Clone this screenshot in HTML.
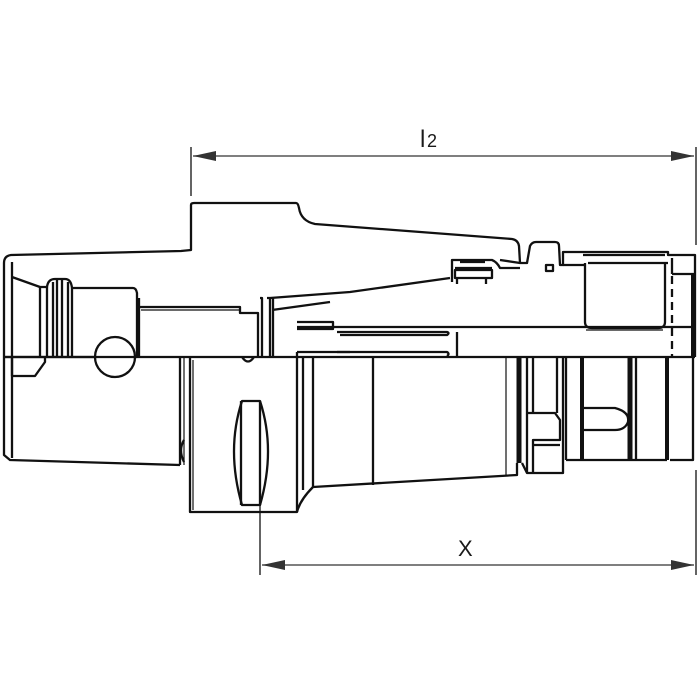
<!DOCTYPE html>
<html><head><style>
html,body{margin:0;padding:0;background:#fff;width:700px;height:700px;overflow:hidden}
svg{display:block}
text{font-family:"Liberation Sans",sans-serif;fill:#1a1a1a}
</style></head><body>
<svg width="700" height="700" viewBox="0 0 700 700" xmlns="http://www.w3.org/2000/svg">
<g fill="none" stroke="#111" stroke-width="2.3" stroke-linejoin="round">
<!-- dimension l2 -->
<line x1="191" y1="147" x2="191" y2="196" stroke-width="1.3"/>
<line x1="696" y1="147" x2="696" y2="245" stroke-width="1.3"/>
<line x1="193" y1="156" x2="694" y2="156" stroke="#555" stroke-width="1.5"/>
<path d="M193 156 L216 151 L216 161 Z M694 156 L671 151 L671 161 Z" fill="#333" stroke="none"/>
<!-- dimension X -->
<line x1="260" y1="505" x2="260" y2="575" stroke-width="1.3"/>
<line x1="696" y1="470" x2="696" y2="575" stroke-width="1.3"/>
<line x1="262" y1="565" x2="694" y2="565" stroke="#555" stroke-width="1.5"/>
<path d="M262 565 L285 560 L285 570 Z M694 565 L671 560 L671 570 Z" fill="#333" stroke="none"/>

<!-- outer upper outline -->
<path d="M4 357 L4 263 Q4 256 11 255 L181 251 L191 250 L191 205 Q191 203 194 203 L296 203 Q298 203 299 208 Q301 221 315 224 L512 239 Q518 240 519 246 L520 263 L527 263 L530 246 Q532 242 536 242 L555 242 Q559 242 559 246 L560 265 L563 265 L563 252 L668 252 L668 255 L695 255 L695 357"/>
<line x1="4" y1="357" x2="695" y2="357"/>
<!-- left body lower -->
<path d="M4 357 L4 455 L10 460 L180 465"/>
<line x1="12" y1="262" x2="12" y2="458"/>
<path d="M12 277 L40 287 L47 287 Q48 279 55 279 L65 279 Q71 279 72 288 L133 288 Q136 288 137 293 L137 357"/>
<line x1="47" y1="287" x2="47" y2="357"/><line x1="53" y1="282" x2="53" y2="357"/><line x1="57" y1="280" x2="57" y2="357"/><line x1="62" y1="280" x2="62" y2="357"/><line x1="68" y1="282" x2="68" y2="357"/><line x1="72" y1="288" x2="72" y2="357"/>
<line x1="40" y1="287" x2="40" y2="357"/>
<path d="M12 357 L12 376 L35 376 L45 362 L45 357"/>
<circle cx="115" cy="357" r="20" fill="#fff"/>
<line x1="4" y1="357" x2="137" y2="357"/>
<path d="M139 298 L139 357 M137 307 L240 307 L240 313 L258 313 L258 357"/>
<line x1="141" y1="310" x2="240" y2="310" stroke-width="1.3"/>
<path d="M242 357 Q248 366 254 357"/>
<path d="M260 298 L262 298 L262 357 M267 298 L270 298 L270 357 M270 298 L350 292 L450 278"/>
<path d="M272 310 L330 302 M273 298 L273 357"/>
<line x1="180" y1="357" x2="180" y2="465"/><line x1="184" y1="357" x2="184" y2="465" stroke-width="1.2"/>
<path d="M184 440 Q178 450 184 462"/>
<!-- lower box -->
<path d="M190 357 L190 512 L297 512 Q300 500 313 487 L517 475 L517 463"/>
<line x1="193" y1="360" x2="193" y2="510" stroke-width="1.2"/>
<line x1="297" y1="352" x2="297" y2="512"/>
<path d="M303 357 L303 490 M313 357 L313 487"/>
<path d="M297 352 L350 352 M297 322 L333 322 L333 329 L297 329"/>
<path d="M242 401 L260 401 Q276 450 260 505 L242 505 Q226 450 242 401 Z"/>
<line x1="241" y1="401" x2="241" y2="505"/><line x1="260" y1="401" x2="260" y2="505"/>
<line x1="373" y1="357" x2="373" y2="485"/>
<!-- inner middle lines -->
<path d="M297 327 L693 327"/>
<path d="M337 332 L447 332 Q450 333 447 335 L340 335"/>
<path d="M337 352 L447 352 Q450 354 447 356"/>
<line x1="457" y1="332" x2="457" y2="357"/>
<!-- small parts near top -->
<path d="M452 282 L452 260 L492 260 Q497 262 500 268 L520 268"/>
<path d="M455 270 L492 270 L492 278 L455 278 Z"/>
<path d="M460 262 L485 262 M455 268 L492 268"/>
<line x1="457" y1="278" x2="457" y2="284"/><line x1="486" y1="278" x2="486" y2="284"/>
<path d="M500 260 L520 263"/>
<rect x="546" y="265" width="7" height="6"/>
<path d="M563 265 L585 265"/>
<!-- right box -->
<path d="M585 263 L585 322 Q585 328 592 328 L658 328 Q665 328 665 322 L665 263"/>
<path d="M583 255 L665 255 M588 263 L668 263"/>
<path d="M586 330 L663 330" stroke-width="1.2"/>
<line x1="672" y1="258" x2="672" y2="274"/>
<line x1="672" y1="274" x2="695" y2="274"/>
<line x1="693" y1="274" x2="693" y2="357" stroke-width="4"/>
<line x1="672" y1="276" x2="672" y2="357" stroke-dasharray="8,5"/>
<!-- right rings -->
<line x1="519" y1="357" x2="519" y2="463" stroke-width="5"/>
<path d="M522 463 L527 473 L563 473 L563 357"/>
<line x1="527" y1="357" x2="527" y2="473"/><line x1="533" y1="357" x2="533" y2="413"/>
<path d="M527 413 L555 413 L560 420 L560 440 L533 440 L533 473 M533 445 L560 445"/>
<line x1="557" y1="357" x2="557" y2="413"/>
<line x1="566" y1="357" x2="566" y2="460"/>
<path d="M566 460 L667 460"/>
<line x1="582" y1="357" x2="582" y2="460" stroke-width="4"/>
<path d="M584 408 L615 408 Q630 412 628 422 Q625 430 615 430 L584 430"/>
<line x1="630" y1="357" x2="630" y2="460" stroke-width="5"/>
<line x1="636" y1="357" x2="636" y2="460"/>
<line x1="667" y1="357" x2="667" y2="460" stroke-width="4"/>
<path d="M670 460 L693 460 L693 357"/>
<line x1="506" y1="357" x2="506" y2="476" stroke-width="1.2"/>
</g>
<text x="420" y="147" font-size="24">l</text><text x="427" y="147" font-size="18">2</text>
<text x="458" y="556" font-size="22">X</text>
</svg>
</body></html>
